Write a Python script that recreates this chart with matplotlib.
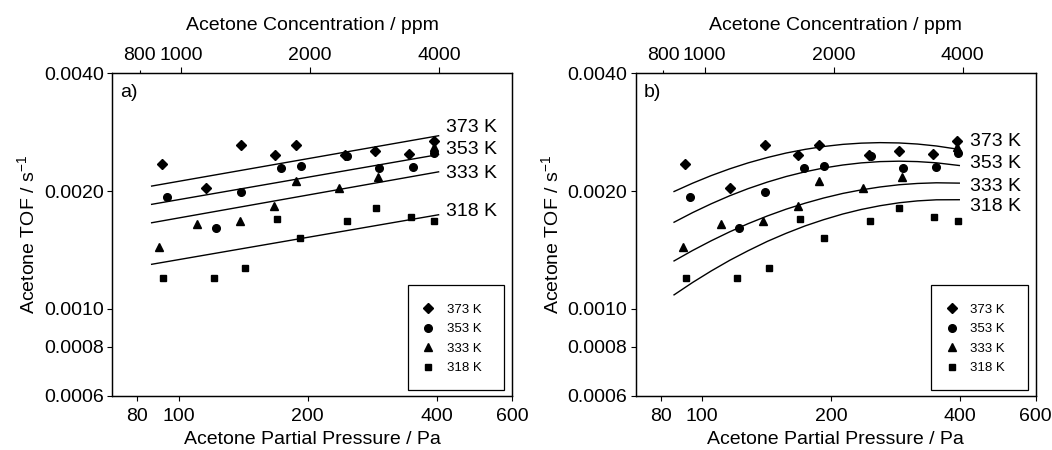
import numpy as np
import matplotlib.pyplot as plt
from matplotlib.ticker import FixedLocator, FixedFormatter, NullLocator
from matplotlib.patches import Rectangle

plt.rcParams['font.family'] = ['Liberation Sans', 'DejaVu Sans']

# ---- data
temps = ['373 K', '353 K', '333 K', '318 K']
markers = ['D', 'o', '^', 's']
msizes = [5.0, 5.5, 6.0, 4.8]

p_373 = [91.3, 115.9, 140.0, 167.5, 187.6, 244.9, 287.3, 345.1, 393.7]
tof_373 = [0.00235, 0.00204, 0.00263, 0.00248, 0.00262, 0.00248, 0.00253, 0.00249, 0.00268]
p_353 = [93.8, 122.1, 140.0, 173.0, 192.8, 247.5, 293.6, 352.1, 395.0]
tof_353 = [0.00193, 0.00161, 0.00199, 0.00229, 0.00232, 0.00246, 0.00229, 0.00231, 0.00250]
p_333 = [90.0, 110.6, 139.0, 167.0, 187.6, 237.1, 292.0, 393.7]
tof_333 = [0.00144, 0.00165, 0.00168, 0.00183, 0.00212, 0.00204, 0.00217, 0.00259]
p_318 = [91.9, 120.8, 143.1, 169.3, 192.1, 247.0, 288.0, 347.8, 394.4]
tof_318 = [0.00120, 0.00120, 0.00127, 0.00170, 0.00152, 0.00168, 0.00181, 0.00172, 0.00168]

# panel a: power-law fits (straight in log-log)
fit_p = [86.5, 404.0]
fit_373 = [0.00206, 0.00277]
fit_353 = [0.00185, 0.00248]
fit_333 = [0.00166, 0.00224]
fit_318 = [0.00130, 0.00174]

# panel b: model curves, read at these pressures
curve_p = [86, 95, 105, 116, 128, 142, 157, 174, 192, 213, 235, 260, 288, 318, 352, 398]
curve_373 = [0.001995, 0.002095, 0.002191, 0.002280, 0.002361, 0.002437, 0.002502, 0.002557,
             0.002600, 0.002633, 0.002652, 0.002660, 0.002655, 0.002638, 0.002608, 0.002556]
curve_353 = [0.001665, 0.001762, 0.001856, 0.001946, 0.002029, 0.002109, 0.002179, 0.002241,
             0.002291, 0.002332, 0.002361, 0.002379, 0.002385, 0.002379, 0.002362, 0.002325]
curve_333 = [0.001326, 0.001410, 0.001493, 0.001574, 0.001651, 0.001728, 0.001798, 0.001863,
             0.001920, 0.001973, 0.002014, 0.002049, 0.002076, 0.002092, 0.002100, 0.002096]
curve_318 = [0.001086, 0.001168, 0.001250, 0.001331, 0.001408, 0.001488, 0.001560, 0.001630,
             0.001690, 0.001748, 0.001795, 0.001835, 0.001867, 0.001888, 0.001900, 0.001901]

x_ticks = [80, 100, 200, 400, 600]
y_ticks = [0.0006, 0.0008, 0.0010, 0.0020, 0.0040]
ppm_ticks = [1000, 2000, 4000]
ppm_minor = [800]
PPM_PER_PA = 1e6 / 101325.0

points = [(p_373, tof_373), (p_353, tof_353), (p_333, tof_333), (p_318, tof_318)]

# label positions (y in data units) for the line labels
lab_y_a = [0.00290, 0.00255, 0.00222, 0.00177]
lab_y_b = [0.00267, 0.00235, 0.00206, 0.00183]

FS = 14


def draw_panel(ax, xs, ys_list, lab_y, tag):
    ax.set_xscale('log')
    ax.set_yscale('log')
    ax.set_xlim(70, 600)
    ax.set_ylim(0.0006, 0.0040)

    for ys in ys_list:
        ax.plot(xs, ys, color='black', lw=1.0, zorder=2)
    for (px, py), m, ms, lab in zip(points, markers, msizes, temps):
        ax.plot(px, py, ls='none', marker=m, ms=ms, color='black', label=lab, zorder=3)
    for y, lab in zip(lab_y, temps):
        ax.text(421, y, lab, fontsize=14, va='center', ha='left', clip_on=False)

    ax.text(0.02, 0.94, tag, transform=ax.transAxes, fontsize=FS, va='center', ha='left')

    ax.xaxis.set_major_locator(FixedLocator(x_ticks))
    ax.xaxis.set_major_formatter(FixedFormatter([str(v) for v in x_ticks]))
    ax.xaxis.set_minor_locator(NullLocator())
    ax.yaxis.set_major_locator(FixedLocator(y_ticks))
    ax.yaxis.set_major_formatter(FixedFormatter(['%.4f' % v for v in y_ticks]))
    ax.yaxis.set_minor_locator(NullLocator())
    ax.tick_params(axis='y', which='major', labelsize=FS, length=3.6, width=0.8, pad=2.5)
    ax.tick_params(axis='x', which='major', labelsize=FS, length=3.6, width=0.8, pad=5.5)
    ax.set_xlabel('Acetone Partial Pressure / Pa', fontsize=FS, labelpad=4)
    ax.set_ylabel('Acetone TOF / s$\\mathregular{^{-1}}$', fontsize=FS, labelpad=4)
    for s in ax.spines.values():
        s.set_linewidth(0.9)

    # top axis in ppm
    top = ax.twiny()
    top.set_xscale('log')
    top.set_xlim(70 * PPM_PER_PA, 600 * PPM_PER_PA)
    top.xaxis.set_major_locator(FixedLocator(ppm_ticks))
    top.xaxis.set_major_formatter(FixedFormatter([str(v) for v in ppm_ticks]))
    top.xaxis.set_minor_locator(FixedLocator(ppm_minor))
    top.xaxis.set_minor_formatter(FixedFormatter([str(v) for v in ppm_minor]))
    top.tick_params(axis='x', which='major', labelsize=FS, length=4.3, width=0.8, pad=2.5)
    top.tick_params(axis='x', which='minor', labelsize=FS, length=2.0, width=0.8, pad=4.8)
    top.set_xlabel('Acetone Concentration / ppm', fontsize=FS, labelpad=12)
    for s in top.spines.values():
        s.set_linewidth(0.9)

    # legend with its own box
    ax.add_patch(Rectangle((0.739, 0.0164), 0.241, 0.327, transform=ax.transAxes,
                           fill=False, edgecolor='black', lw=0.9, zorder=4))
    ax.legend(loc='center', bbox_to_anchor=(0.848, 0.176), frameon=False, fontsize=9.5,
              handlelength=1.0, handletextpad=0.9, labelspacing=0.55, borderpad=0)


fig = plt.figure(figsize=(10.52, 4.5), dpi=100)
ax_a = fig.add_axes([0.1067, 0.1207, 0.3802, 0.7164])
ax_b = fig.add_axes([0.6043, 0.1207, 0.3802, 0.7164])

draw_panel(ax_a, fit_p, [fit_373, fit_353, fit_333, fit_318], lab_y_a, 'a)')
draw_panel(ax_b, curve_p, [curve_373, curve_353, curve_333, curve_318], lab_y_b, 'b)')

fig.savefig('out.png', dpi=100)
